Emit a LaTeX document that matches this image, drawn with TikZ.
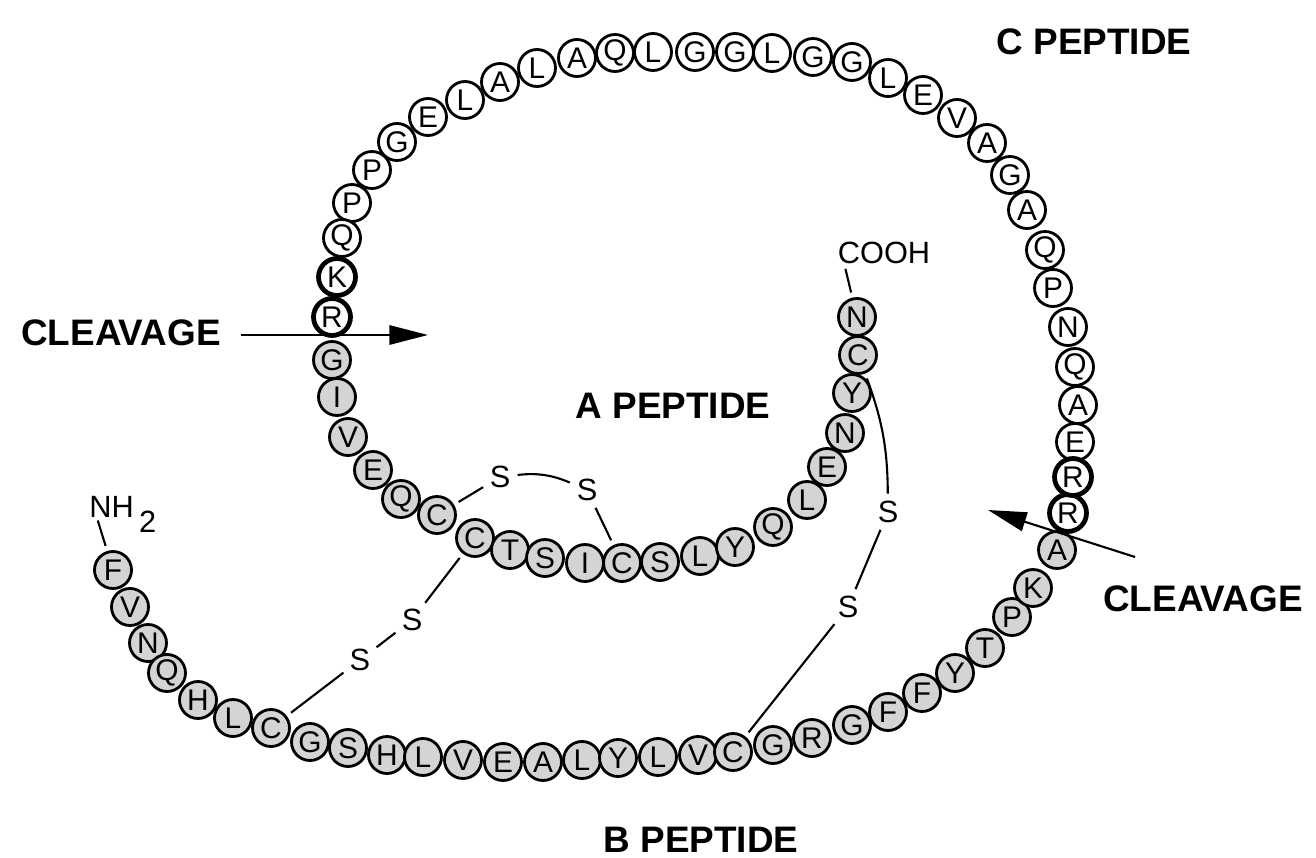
\documentclass[tikz,border=0pt]{standalone}
\usepackage{fontspec}
\setmainfont{Liberation Sans}
\usepackage{tikz}
\usetikzlibrary{arrows.meta}
\newcommand{\resfont}{\fontsize{17}{17}\selectfont}
\newcommand{\txtfont}{\fontsize{17.5}{18}\selectfont}
\newcommand{\lblfont}{\fontsize{21}{21}\selectfont\bfseries}
\tikzset{
  res/.style={circle, draw, line width=1.6pt, minimum size=0.74cm, inner sep=0pt, font=\resfont},
  chainres/.style={res, fill=black!17},
  cpepres/.style={res, fill=white},
  siteres/.style={res, fill=white, line width=2.7pt},
  sulfur/.style={font=\txtfont, inner sep=1pt},
  bond/.style={line width=1.2pt, shorten <=3pt, shorten >=3pt},
  cut/.style={line width=1.2pt, -{Triangle[length=22pt,width=11pt]}},
  peplabel/.style={font=\lblfont}
}

\begin{document}
\begin{tikzpicture}[x=0.02cm, y=-0.02cm]
        \useasboundingbox (0,0) rectangle (1316,858);
        % B chain
        \foreach \x/\y/\t [count=\i] in {113/570/F, 130/607/V, 148/643/N, 167/673/Q,
            198/700/H, 233/718/L, 271/728/C, 310/742/G, 348/748/S, 387/755/H,
            423/757/L, 463/760/V, 503/762/E, 543/762/A, 582/760/L, 618/758/Y,
            658/757/L, 698/755/V, 733/752/C, 773/745/G, 812/738/R, 852/725/G,
            888/712/F, 922/693/F, 955/673/Y, 985/648/T, 1012/617/P, 1033/588/K,
            1057/550/A}
          \node[chainres] (b\i) at (\x,\y) {\t};
        % A chain
        \foreach \x/\y/\t [count=\i] in {332/360/G, 337/397/I, 348/437/V, 373/470/E,
            401/499/Q, 437/515/C, 475/538/C, 510/550/T, 545/558/S, 585/563/I,
            622/563/C, 660/562/S, 700/556/L, 735/547/Y, 773/527/Q, 807/500/L,
            827/467/E, 845/433/N, 852/393/Y, 858/355/C, 857/317/N}
          \node[chainres] (a\i) at (\x,\y) {\t};
        % C peptide
        \foreach \x/\y/\t [count=\i from 3] in {1075/442/E, 1078/405/A, 1075/367/Q,
            1068/327/N, 1053/288/P, 1045/250/Q, 1027/210/A, 1010/175/G, 987/143/A,
            957/118/V, 923/95/E, 888/78/L, 852/62/G, 813/57/G, 772/53/L, 735/52/G,
            695/52/G, 653/52/L, 615/53/Q, 577/58/A, 537/68/L, 500/82/A, 465/100/L,
            428/117/E, 397/142/G, 372/170/P, 352/203/P, 342/238/Q}
          \node[cpepres] (c\i) at (\x,\y) {\t};
        % Cleavage sites
        \node[siteres] (c1) at (1068,513) {R};
        \node[siteres] (c2) at (1073,477) {R};
        \node[siteres] (c31) at (337,277) {K};
        \node[siteres] (c32) at (332,317) {R};
        % Ends
        \node[font=\txtfont, inner sep=0pt, anchor=base west] (nh2) at (89,517)
              {NH\hspace{3pt}\raisebox{-9pt}{2}};
        \node[font=\txtfont, inner sep=0pt] (cooh) at (884,253) {COOH};
        \draw[bond, shorten >=0pt] (b1) -- ([xshift=5pt,yshift=-2pt]nh2.base west);
        \draw[bond, shorten >=0pt] (a21) -- ([xshift=4.5pt,yshift=-3pt]cooh.base west);
        % Disulfide bridges
        \node[sulfur] (s1) at (500,477) {S};
        \node[sulfur] (s2) at (587,490) {S};
        \node[sulfur] (s3) at (412,620) {S};
        \node[sulfur] (s4) at (360,660) {S};
        \node[sulfur] (s5) at (888,512) {S};
        \node[sulfur] (s6) at (848,607) {S};
        \draw[bond] (a6) -- (s1);
        \draw[bond] (s1) to[bend left=15] (s2);
        \draw[bond] (s2) -- (a11);
        \draw[bond] (a7) -- (s3);
        \draw[bond] (s3) -- (s4);
        \draw[bond] (s4) -- (b7);
        \draw[bond] (a20) to[bend left=10] (s5);
        \draw[bond] (s5) -- (s6);
        \draw[bond] (s6) -- (b19);
        % Labels and cleavage arrows
        \node[peplabel] (cpep) at (1094,42) {C PEPTIDE};
        \node[peplabel] (apep) at (673,406) {A PEPTIDE};
        \node[peplabel] (bpep) at (701,840) {B PEPTIDE};
        \node[peplabel] (cleavl) at (121,333) {CLEAVAGE};
        \node[peplabel] (cleavr) at (1203,599) {CLEAVAGE};
        \coordinate (tipl) at (428,335);
        \coordinate (tailr) at (1135,557);
        \coordinate (tipr) at (988,510);
        \draw[cut, shorten <=8pt] (cleavl.east |- tipl) -- (tipl);
        \draw[cut] (tailr) -- (tipr);
\end{tikzpicture}
\end{document}
